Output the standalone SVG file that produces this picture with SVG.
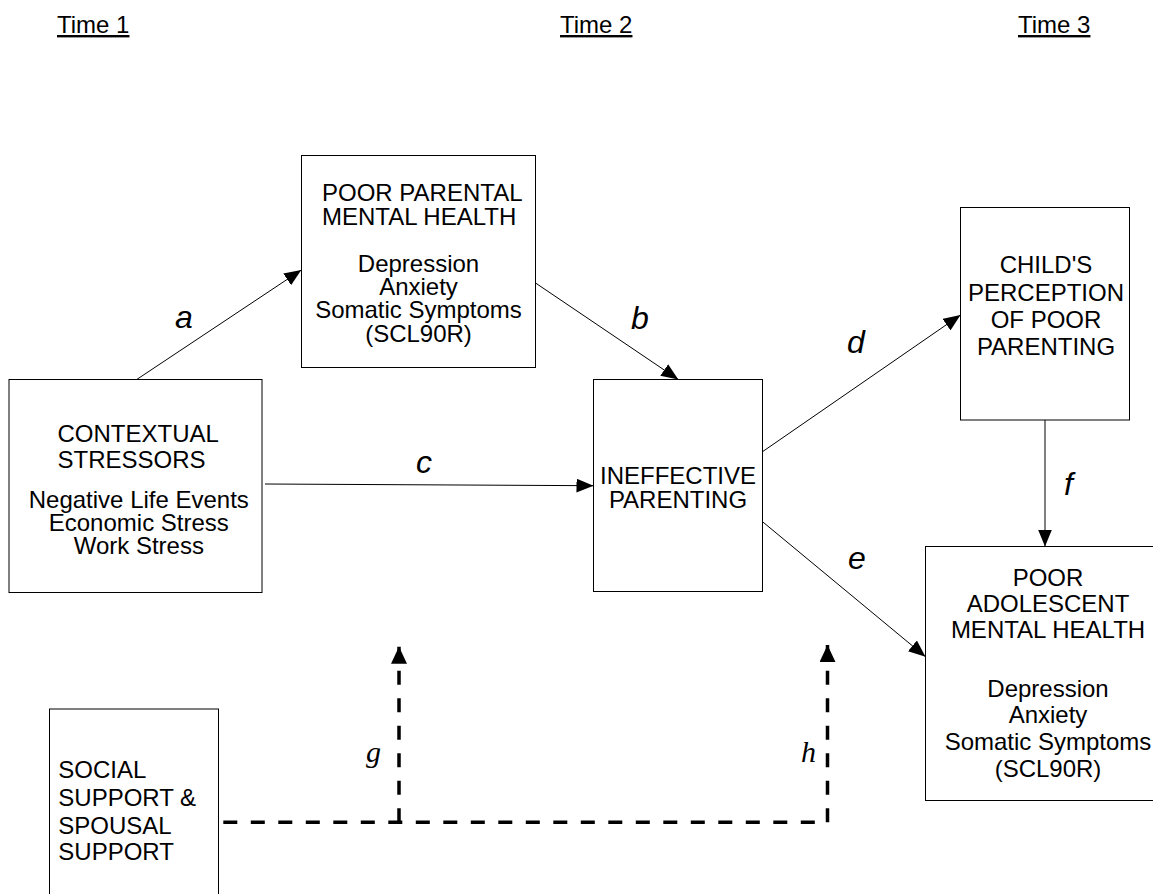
<svg xmlns="http://www.w3.org/2000/svg" width="1153" height="894" viewBox="0 0 1153 894">
<style>
.box{fill:#fff;stroke:#000;stroke-width:1}
.t{font-family:"Liberation Sans",Arial,sans-serif;font-size:24px;fill:#000}
.c{text-anchor:middle}
.lbl{font-family:"Liberation Sans",Arial,sans-serif;font-size:32px;font-style:italic;fill:#000}
.slbl{font-family:"Liberation Serif","Times New Roman",serif;font-size:30px;font-style:italic;fill:#000}
.ln{stroke:#000;stroke-width:1;fill:none}
.dl{stroke:#000;stroke-width:3.5;fill:none;stroke-dasharray:14 13.5}
</style>
<defs>
<marker id="ah" markerUnits="userSpaceOnUse" markerWidth="17" markerHeight="14" refX="17" refY="7" orient="auto">
<path d="M0,0 L17,7 L0,14 z" fill="#000"/>
</marker>
<marker id="ahd" markerUnits="userSpaceOnUse" markerWidth="17" markerHeight="16" refX="17" refY="8" orient="auto">
<path d="M0,0 L17,8 L0,16 z" fill="#000"/>
</marker>
</defs>

<g id="time-labels" class="t">
<text x="57" y="33" text-decoration="underline">Time 1</text>
<text x="560" y="33" text-decoration="underline">Time 2</text>
<text x="1018" y="33" text-decoration="underline">Time 3</text>
</g>

<g id="connectors">
<line class="ln" x1="136.7" y1="379.5" x2="301.3" y2="270" marker-end="url(#ah)"/>
<line class="ln" x1="536" y1="283.3" x2="678.3" y2="379.5" marker-end="url(#ah)"/>
<line class="ln" x1="265" y1="484" x2="593.5" y2="485.7" marker-end="url(#ah)"/>
<line class="ln" x1="762.5" y1="451.7" x2="960.5" y2="315" marker-end="url(#ah)"/>
<line class="ln" x1="762.5" y1="521.7" x2="925.5" y2="656.7" marker-end="url(#ah)"/>
<line class="ln" x1="1045" y1="420" x2="1045" y2="546.5" marker-end="url(#ah)"/>
<line class="dl" x1="223.3" y1="822.3" x2="827.5" y2="822.3"/>
<line class="dl" x1="399" y1="822.3" x2="399" y2="646.7" marker-end="url(#ahd)"/>
<line class="dl" x1="827.5" y1="822.3" x2="827.5" y2="645" marker-end="url(#ahd)"/>
<text class="lbl" x="175" y="328">a</text>
<text class="lbl" x="631" y="329">b</text>
<text class="lbl" x="416" y="473">c</text>
<text class="lbl" x="847" y="352.7">d</text>
<text class="lbl" x="848" y="569">e</text>
<text class="lbl" x="1064" y="495">f</text>
<text class="slbl" x="366" y="762">g</text>
<text class="slbl" x="801" y="762">h</text>
</g>

<g id="poor-parental-mental-health">
<rect class="box" x="301.5" y="155.5" width="234" height="212"/>
<text class="t" x="322" y="201">POOR PARENTAL</text>
<text class="t" x="322" y="225">MENTAL HEALTH</text>
<text class="t c" x="418.5" y="272.3">Depression</text>
<text class="t c" x="418.5" y="295">Anxiety</text>
<text class="t c" x="418.5" y="318.3">Somatic Symptoms</text>
<text class="t c" x="418.5" y="341.5">(SCL90R)</text>
</g>

<g id="contextual-stressors">
<rect class="box" x="9" y="379.5" width="253" height="213"/>
<text class="t" x="57.5" y="442">CONTEXTUAL</text>
<text class="t" x="57.5" y="468.3">STRESSORS</text>
<text class="t c" x="138.8" y="508.3">Negative Life Events</text>
<text class="t c" x="138.8" y="531">Economic Stress</text>
<text class="t c" x="138.8" y="554">Work Stress</text>
</g>

<g id="ineffective-parenting">
<rect class="box" x="593.5" y="379.5" width="169" height="212"/>
<text class="t c" x="678" y="484.3">INEFFECTIVE</text>
<text class="t c" x="678" y="508.3">PARENTING</text>
</g>

<g id="childs-perception">
<rect class="box" x="960.5" y="207.5" width="169" height="212.5"/>
<text class="t c" x="1046" y="273.3">CHILD'S</text>
<text class="t c" x="1046" y="300.7">PERCEPTION</text>
<text class="t c" x="1046" y="327.7">OF POOR</text>
<text class="t c" x="1046" y="355">PARENTING</text>
</g>

<g id="poor-adolescent-mental-health">
<rect class="box" x="925.5" y="546.5" width="240" height="254"/>
<text class="t c" x="1048" y="585.5">POOR</text>
<text class="t c" x="1048" y="612">ADOLESCENT</text>
<text class="t c" x="1048" y="638.3">MENTAL HEALTH</text>
<text class="t c" x="1048" y="696.5">Depression</text>
<text class="t c" x="1048" y="723">Anxiety</text>
<text class="t c" x="1048" y="750">Somatic Symptoms</text>
<text class="t c" x="1048" y="776.5">(SCL90R)</text>
</g>

<g id="social-support">
<rect class="box" x="49.5" y="709" width="169" height="200"/>
<text class="t" x="58.3" y="777.7">SOCIAL</text>
<text class="t" x="58.3" y="805.7">SUPPORT &amp;</text>
<text class="t" x="58.3" y="834">SPOUSAL</text>
<text class="t" x="58.3" y="860">SUPPORT</text>
</g>
</svg>
